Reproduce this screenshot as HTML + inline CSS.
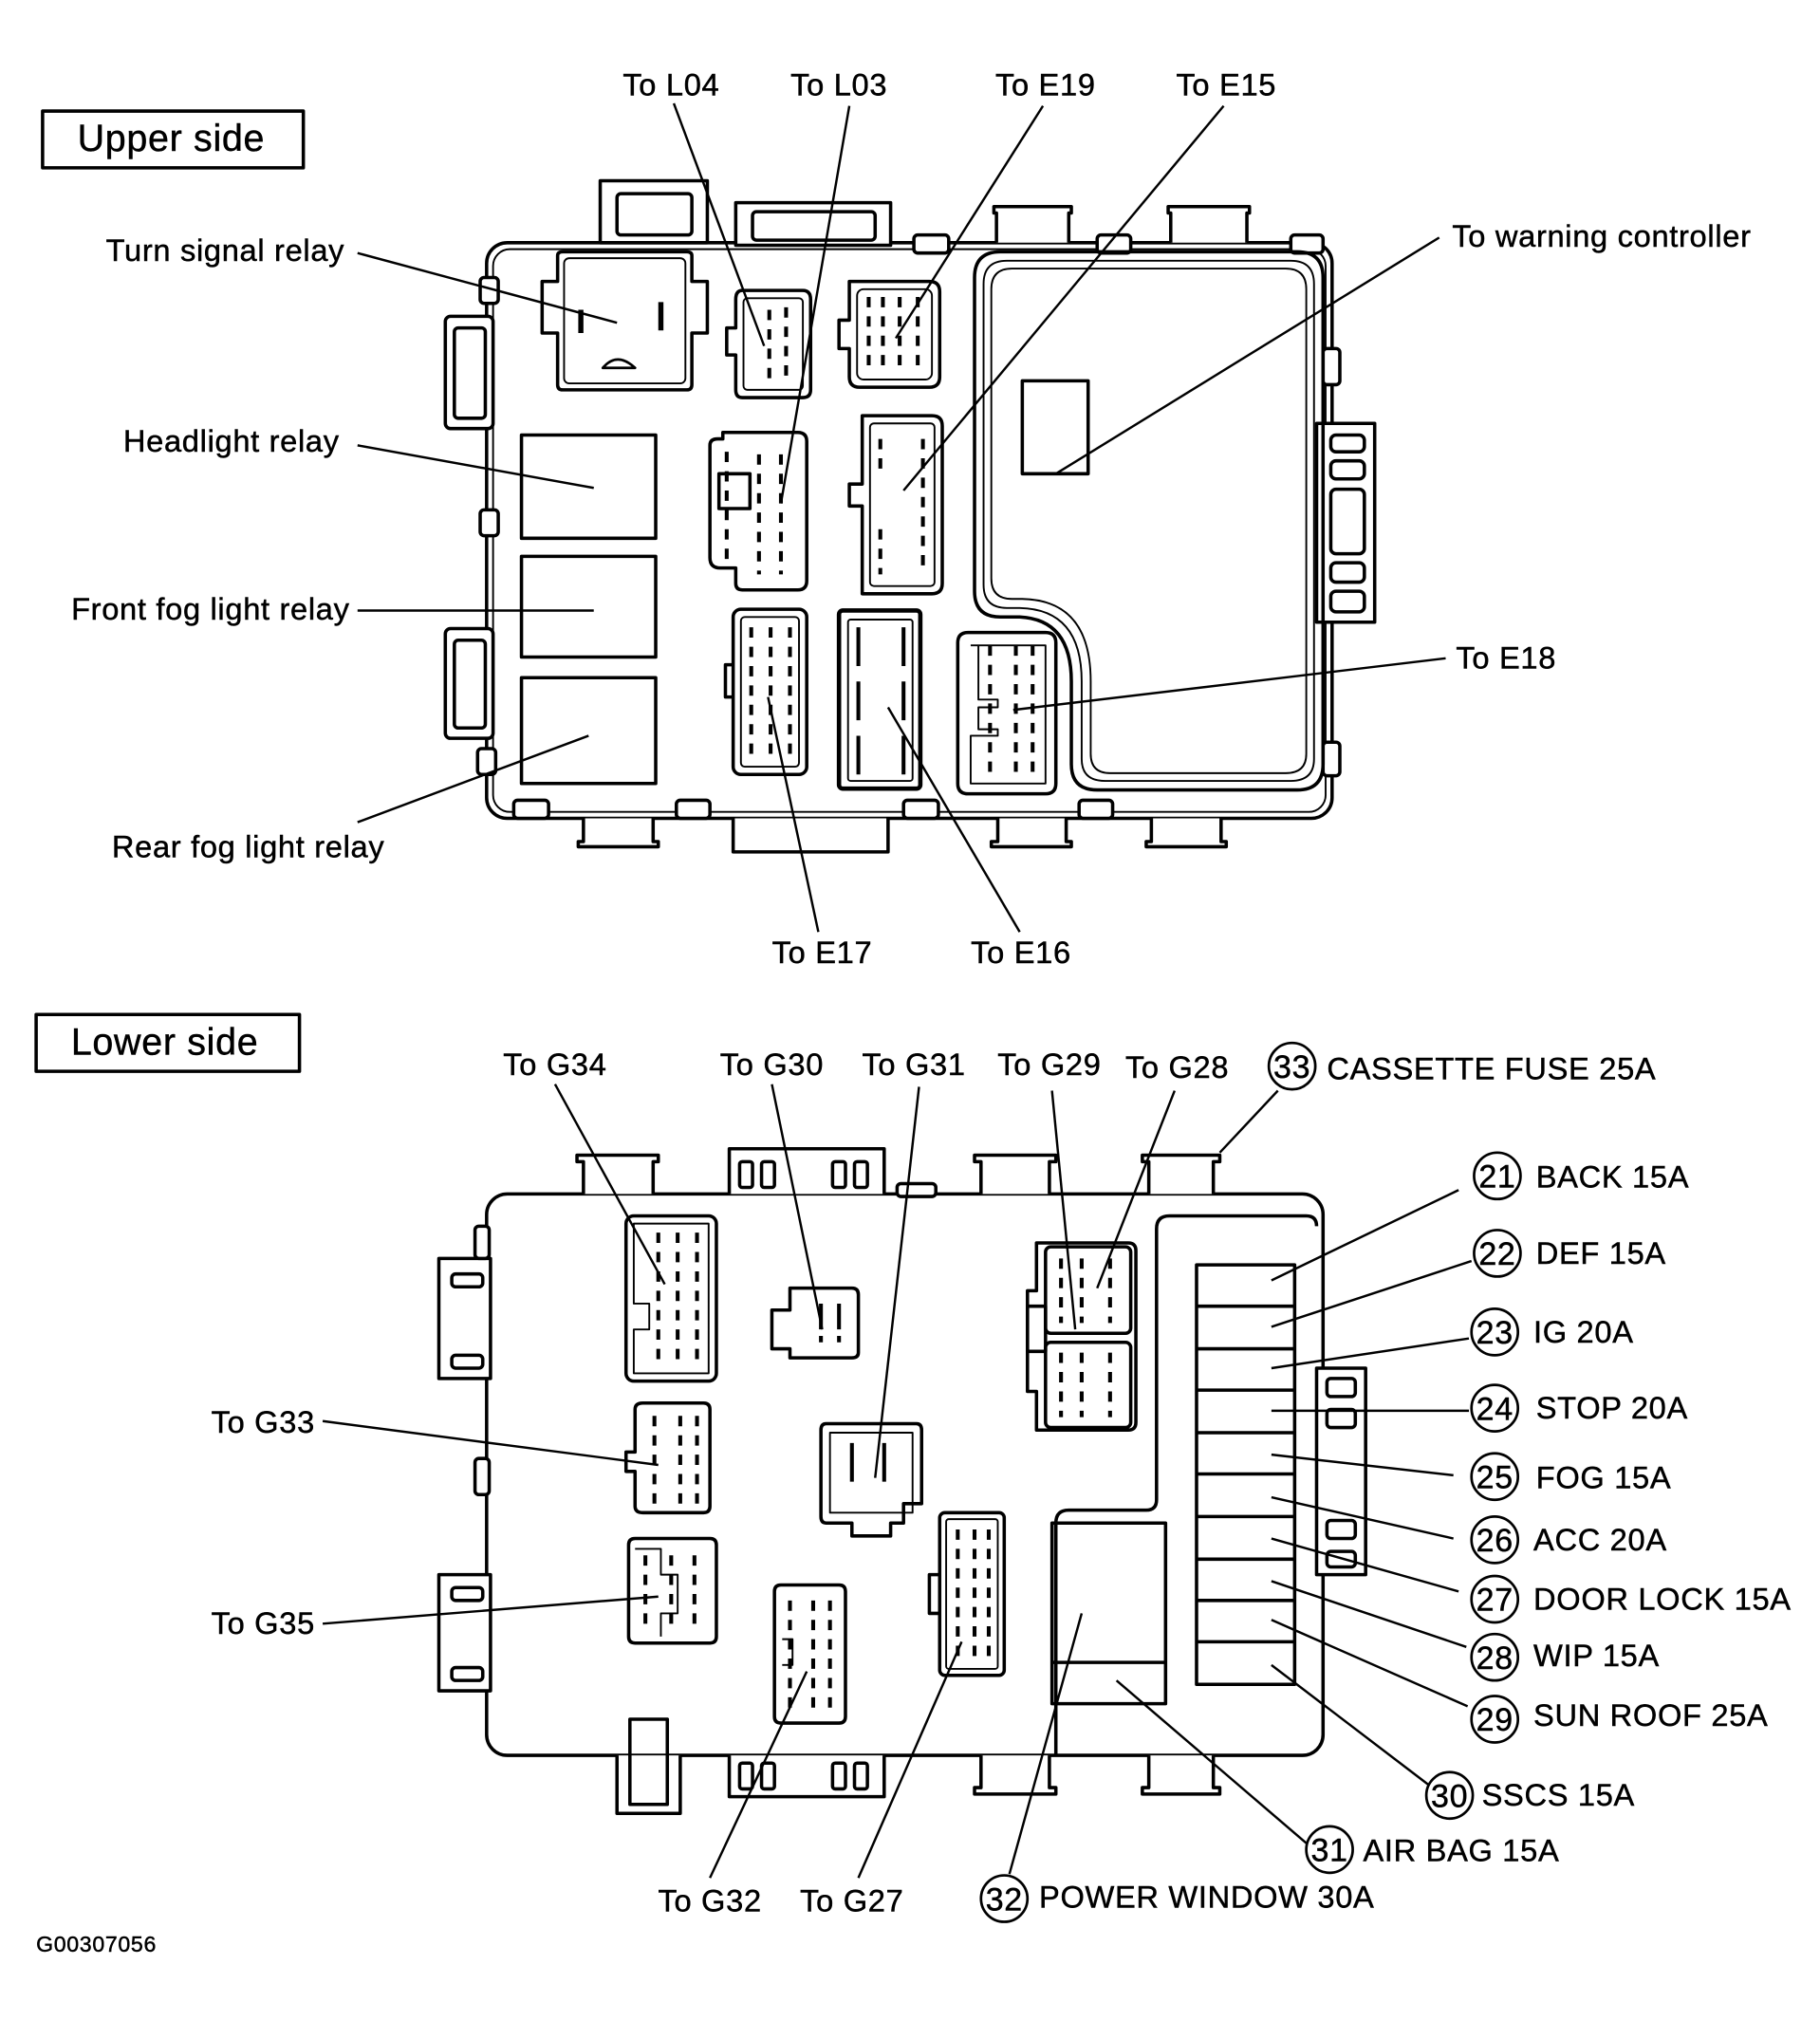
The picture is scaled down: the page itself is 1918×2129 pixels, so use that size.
<!DOCTYPE html>
<html><head><meta charset="utf-8"><style>
html,body{margin:0;padding:0;background:#fff;}
svg{display:block;}
text{font-family:"Liberation Sans",Arial,sans-serif;fill:#000;stroke:#000;stroke-width:0.35;letter-spacing:0.5px;}
</style></head><body>
<svg width="1918" height="2129" viewBox="0 0 1410 1565" xmlns="http://www.w3.org/2000/svg">
<g fill="none" stroke="#000" stroke-width="2.6" stroke-linejoin="round">
<!-- ============ UPPER SIDE ============ -->
<rect x="33" y="86" width="202" height="44"/>
<rect x="377" y="188" width="655" height="446" rx="16"/>
<rect x="382" y="193" width="645" height="436" rx="13" stroke-width="1.4"/>
<rect x="465" y="140" width="83" height="48" fill="#fff"/>
<rect x="478" y="150" width="58" height="32" rx="3"/>
<rect x="570" y="157" width="120" height="33" fill="#fff"/>
<rect x="583" y="164" width="95" height="22" rx="3"/>
<rect x="708" y="182" width="27" height="14" rx="3" fill="#fff"/>
<rect x="850" y="182" width="26" height="14" rx="3" fill="#fff"/>
<rect x="1000" y="182" width="25" height="14" rx="3" fill="#fff"/>
<path d="M772 188 V165 H770 V160 H830 V165 H828 V188" fill="#fff"/>
<path d="M907 188 V165 H905 V160 H968 V165 H966 V188" fill="#fff"/>
<rect x="345" y="245" width="37" height="87" rx="4" fill="#fff"/>
<rect x="352" y="254" width="24" height="70" rx="3"/>
<rect x="345" y="487" width="37" height="85" rx="4" fill="#fff"/>
<rect x="352" y="496" width="24" height="68" rx="3"/>
<rect x="372" y="215" width="14" height="20" rx="3" fill="#fff"/>
<rect x="372" y="395" width="14" height="20" rx="3" fill="#fff"/>
<rect x="370" y="580" width="14" height="20" rx="3" fill="#fff"/>
<rect x="1025" y="270" width="13" height="28" rx="3" fill="#fff"/>
<rect x="1025" y="575" width="13" height="26" rx="3" fill="#fff"/>
<rect x="1020" y="328" width="45" height="154" fill="#fff"/>
<rect x="1031" y="337" width="26" height="13" rx="4"/>
<rect x="1031" y="357" width="26" height="14" rx="4"/>
<rect x="1031" y="379" width="26" height="50" rx="4"/>
<rect x="1031" y="436" width="26" height="15" rx="4"/>
<rect x="1031" y="458" width="26" height="16" rx="4"/>
<rect x="398" y="620" width="27" height="14" rx="3" fill="#fff"/>
<rect x="524" y="620" width="26" height="14" rx="3" fill="#fff"/>
<rect x="700" y="620" width="27" height="14" rx="3" fill="#fff"/>
<rect x="836" y="620" width="26" height="14" rx="3" fill="#fff"/>
<path d="M568 634 V660 H688 V634" fill="#fff"/>
<path d="M452 634 V652 H448 V656 H510 V652 H506 V634" fill="#fff"/>
<path d="M773 634 V652 H768 V656 H830 V652 H826 V634" fill="#fff"/>
<path d="M892 634 V652 H888 V656 H950 V652 H946 V634" fill="#fff"/>
<path d="M420 218 H432 V198 Q432 195 436 195 H532 Q536 195 536 198 V218 H548 V258 H536 V298 Q536 302 532 302 H436 Q432 302 432 298 V258 H420 Z"/>
<rect x="437" y="200" width="94" height="97" rx="4" stroke-width="1.4"/>
<path d="M450 240 V258 M512 234 V256" stroke-width="4"/>
<path d="M467 285 Q478 272 492 285 Z" stroke-width="2"/>
<rect x="404" y="337" width="104" height="80"/>
<rect x="404" y="431" width="104" height="78"/>
<rect x="404" y="525" width="104" height="82"/>
<path d="M575 225 H622 Q628 225 628 232 V302 Q628 308 622 308 H575 Q570 308 570 302 V275 H563 V254 H570 V232 Q570 225 575 225 Z"/>
<rect x="576" y="231" width="46" height="71" rx="3" stroke-width="1.4"/>
<path d="M658 218 H720 Q728 218 728 226 V292 Q728 300 720 300 H666 Q658 300 658 292 V270 H650 V248 H658 Z"/>
<rect x="664" y="224" width="58" height="70" rx="5" stroke-width="1.4"/>
<path d="M560 335 H618 Q625 335 625 342 V450 Q625 457 618 457 H575 Q570 457 570 452 V440 H558 Q550 440 550 432 V345 Q550 340 556 340 H560 Z"/>
<rect x="557" y="367" width="24" height="27"/>
<path d="M668 322 H722 Q730 322 730 330 V452 Q730 460 722 460 H668 V392 H658 V375 H668 Z"/>
<rect x="674" y="328" width="50" height="126" rx="3" stroke-width="1.4"/>
<rect x="568" y="472" width="57" height="128" rx="6"/>
<rect x="574" y="478" width="45" height="116" rx="3" stroke-width="1.4"/>
<path d="M568 515 H562 V540 H568" />
<rect x="650" y="473" width="63" height="138" rx="3" stroke-width="3.4"/>
<rect x="657" y="480" width="50" height="125" rx="2" stroke-width="1.4"/>
<path d="M750 490 H810 Q818 490 818 498 V607 Q818 615 810 615 H750 Q742 615 742 607 V498 Q742 490 750 490 Z"/>
<path d="M752 500 H810 V607 H752 V570 H773 V565 H758 V548 H773 V542 H758 V500" stroke-width="1.4"/>
<path d="M775 195 H1005 Q1025 195 1025 215 V592 Q1025 612 1005 612 H850 Q830 612 830 592 V528 Q830 480 790 478 H775 Q755 478 755 458 V215 Q755 195 775 195 Z"/>
<path d="M780 202 H1000 Q1018 202 1018 220 V588 Q1018 605 1000 605 H856 Q838 605 838 588 V528 Q838 472 790 471 H780 Q762 471 762 453 V220 Q762 202 780 202 Z" stroke-width="1.4"/>
<path d="M784 208 H996 Q1012 208 1012 224 V584 Q1012 599 996 599 H860 Q845 599 845 584 V528 Q845 465 792 464 H784 Q768 464 768 448 V224 Q768 208 784 208 Z" stroke-width="1.4"/>
<rect x="792" y="295" width="51" height="72"/>
</g>
<g stroke="#000" stroke-width="3" stroke-dasharray="8,7" fill="none">
<path d="M596 240 V296 M609 238 V298"/>
<path d="M673 230 V290 M684 230 V290 M697 230 V290 M711 230 V290"/>
<path d="M563 350 V440 M588 352 V445 M605 352 V445"/>
<path d="M682 340 V370 M682 410 V445 M715 340 V445"/>
<path d="M582 486 V590 M597 486 V590 M612 486 V590"/>
<path d="M665 486 V600 M700 486 V600" stroke-dasharray="30,12"/>
<path d="M767 500 V605 M787 500 V605 M800 500 V605"/>
</g>
<g stroke="#000" stroke-width="1.8" fill="none">
<path d="M277 196 L478 250"/>
<path d="M277 345 L460 378"/>
<path d="M277 473 L460 473"/>
<path d="M277 637 L456 570"/>
<path d="M522 80 L592 268"/>
<path d="M658 82 L605 390"/>
<path d="M808 82 L694 262"/>
<path d="M948 82 L700 380"/>
<path d="M1115 184 L818 367"/>
<path d="M1120 510 L785 550"/>
<path d="M634 722 L595 540"/>
<path d="M790 722 L688 548"/>
</g>
<g font-size="24">
<text x="60" y="117" font-size="29">Upper side</text>
<text x="267" y="202" text-anchor="end">Turn signal relay</text>
<text x="263" y="350" text-anchor="end">Headlight relay</text>
<text x="271" y="480" text-anchor="end">Front fog light relay</text>
<text x="298" y="664" text-anchor="end">Rear fog light relay</text>
<text x="520" y="74" text-anchor="middle">To L04</text>
<text x="650" y="74" text-anchor="middle">To L03</text>
<text x="810" y="74" text-anchor="middle">To E19</text>
<text x="950" y="74" text-anchor="middle">To E15</text>
<text x="1125" y="191">To warning controller</text>
<text x="1128" y="518">To E18</text>
<text x="637" y="746" text-anchor="middle">To E17</text>
<text x="791" y="746" text-anchor="middle">To E16</text>
</g>

<!-- ============ LOWER SIDE ============ -->
<g fill="none" stroke="#000" stroke-width="2.6" stroke-linejoin="round">
<rect x="28" y="786" width="204" height="44"/>
<rect x="377" y="925" width="648" height="435" rx="16"/>
<path d="M565 925 V890 H685 V925" fill="#fff"/>
<rect x="573" y="900" width="10" height="20" rx="2"/><rect x="590" y="900" width="10" height="20" rx="2"/>
<rect x="645" y="900" width="10" height="20" rx="2"/><rect x="662" y="900" width="10" height="20" rx="2"/>
<rect x="695" y="917" width="30" height="10" rx="3" fill="#fff"/>
<path d="M452 925 V900 H447 V895 H510 V900 H506 V925" fill="#fff"/>
<path d="M760 925 V900 H755 V895 H818 V900 H813 V925" fill="#fff"/>
<path d="M890 925 V900 H885 V895 H945 V900 H940 V925" fill="#fff"/>
<rect x="340" y="975" width="40" height="93" fill="#fff"/>
<rect x="350" y="987" width="24" height="10" rx="3"/><rect x="350" y="1050" width="24" height="10" rx="3"/>
<rect x="340" y="1220" width="40" height="90" fill="#fff"/>
<rect x="350" y="1230" width="24" height="10" rx="3"/><rect x="350" y="1292" width="24" height="10" rx="3"/>
<rect x="368" y="950" width="11" height="25" rx="3" fill="#fff"/>
<rect x="368" y="1130" width="11" height="28" rx="3" fill="#fff"/>
<rect x="1020" y="1060" width="38" height="160" fill="#fff"/>
<rect x="1028" y="1068" width="22" height="14" rx="3"/><rect x="1028" y="1092" width="22" height="14" rx="3"/>
<rect x="1028" y="1178" width="22" height="14" rx="3"/><rect x="1028" y="1202" width="22" height="12" rx="3"/>
<path d="M478 1360 V1405 H527 V1360" fill="#fff"/>
<path d="M488 1332 V1398 H517 V1332 Z"/>
<path d="M565 1360 V1392 H685 V1360" fill="#fff"/>
<rect x="573" y="1366" width="10" height="20" rx="2"/><rect x="590" y="1366" width="10" height="20" rx="2"/>
<rect x="645" y="1366" width="10" height="20" rx="2"/><rect x="662" y="1366" width="10" height="20" rx="2"/>
<path d="M760 1360 V1385 H755 V1390 H818 V1385 H813 V1360" fill="#fff"/>
<path d="M890 1360 V1385 H885 V1390 H945 V1385 H940 V1360" fill="#fff"/>
<path d="M818 1360 V1180 Q818 1170 828 1170 H888 Q896 1170 896 1162 V952 Q896 942 906 942 H1012 Q1020 942 1020 950"/>
<rect x="815" y="1180" width="88" height="140"/>
<path d="M815 1288 H903"/>
<rect x="927" y="980" width="76" height="325"/>
<path d="M927 1012 H1003 M927 1045 H1003 M927 1077 H1003 M927 1110 H1003 M927 1142 H1003 M927 1175 H1003 M927 1208 H1003 M927 1240 H1003 M927 1272 H1003"/>
<rect x="485" y="942" width="70" height="128" rx="6"/>
<path d="M491 948 H549 V1064 H491 V1030 H503 V1010 H491 Z" stroke-width="1.4"/>
<path d="M612 998 H660 Q665 998 665 1003 V1048 Q665 1052 660 1052 H612 V1045 H598 V1015 H612 Z"/>
<path d="M498 1087 H545 Q550 1087 550 1092 V1167 Q550 1172 545 1172 H498 Q492 1172 492 1167 V1140 H485 V1125 H492 V1092 Q492 1087 498 1087 Z"/>
<path d="M640 1103 H710 Q714 1103 714 1108 V1165 H700 V1180 H690 V1190 H660 V1180 H640 Q636 1180 636 1175 V1108 Q636 1103 640 1103 Z"/>
<rect x="643" y="1110" width="64" height="62" stroke-width="1.4"/>
<path d="M803 963 H874 Q880 963 880 969 V1102 Q880 1108 874 1108 H803 V1078 H796 V1000 H803 Z"/>
<rect x="810" y="966" width="66" height="67" rx="4"/>
<rect x="810" y="1040" width="66" height="66" rx="4"/>
<rect x="796" y="1012" width="14" height="35"/>
<path d="M492 1192 H550 Q555 1192 555 1197 V1268 Q555 1273 550 1273 H492 Q487 1273 487 1268 V1197 Q487 1192 492 1192 Z"/>
<path d="M492 1200 H512 V1220 H525 V1250 H512 V1268" stroke-width="1.4"/>
<path d="M605 1228 H650 Q655 1228 655 1233 V1330 Q655 1335 650 1335 H605 Q600 1335 600 1330 V1233 Q600 1228 605 1228 Z"/>
<path d="M606 1270 H614 V1290 H606" stroke-width="1.4"/>
<rect x="728" y="1172" width="50" height="126" rx="4"/>
<path d="M728 1220 H720 V1250 H728"/>
<rect x="733" y="1177" width="40" height="116" rx="2" stroke-width="1.4"/>
</g>
<g stroke="#000" stroke-width="3" stroke-dasharray="8,7" fill="none">
<path d="M510 955 V1060 M525 955 V1060 M540 955 V1060"/>
<path d="M636 1010 V1040 M650 1010 V1040" stroke-dasharray="20,5"/>
<path d="M507 1097 V1165 M527 1097 V1165 M540 1097 V1165"/>
<path d="M660 1118 V1150 M685 1118 V1150" stroke-dasharray="30,4"/>
<path d="M822 975 V1025 M838 975 V1025 M860 975 V1025 M822 1048 V1098 M838 1048 V1098 M860 1048 V1098"/>
<path d="M500 1205 V1262 M520 1205 V1262 M538 1205 V1262"/>
<path d="M612 1240 V1325 M630 1240 V1325 M643 1240 V1325"/>
<path d="M742 1185 V1290 M755 1185 V1290 M766 1185 V1290"/>
</g>
<g fill="none" stroke="#000" stroke-width="2">
<circle cx="1001" cy="826" r="18"/>
<circle cx="1160" cy="911" r="18"/>
<circle cx="1160" cy="971" r="18"/>
<circle cx="1158" cy="1032" r="18"/>
<circle cx="1158" cy="1091" r="18"/>
<circle cx="1158" cy="1144" r="18"/>
<circle cx="1158" cy="1193" r="18"/>
<circle cx="1158" cy="1239" r="18"/>
<circle cx="1158" cy="1284" r="18"/>
<circle cx="1158" cy="1332" r="18"/>
<circle cx="1123" cy="1391" r="18"/>
<circle cx="1030" cy="1433" r="18"/>
<circle cx="778" cy="1471" r="18"/>
</g>
<g stroke="#000" stroke-width="1.8" fill="none">
<path d="M430 840 L515 995"/>
<path d="M598 840 L637 1030"/>
<path d="M712 842 L678 1145"/>
<path d="M815 845 L833 1030"/>
<path d="M910 845 L850 998"/>
<path d="M990 845 L945 893"/>
<path d="M1130 922 L985 992"/>
<path d="M1140 977 L985 1028"/>
<path d="M1138 1037 L985 1060"/>
<path d="M1138 1093 L985 1093"/>
<path d="M1126 1143 L985 1127"/>
<path d="M1126 1192 L985 1160"/>
<path d="M1130 1233 L985 1192"/>
<path d="M1136 1276 L985 1225"/>
<path d="M1137 1322 L985 1255"/>
<path d="M1107 1383 L985 1290"/>
<path d="M1012 1428 L865 1302"/>
<path d="M782 1452 L838 1250"/>
<path d="M250 1101 L510 1135"/>
<path d="M250 1258 L510 1237"/>
<path d="M550 1455 L625 1295"/>
<path d="M665 1455 L745 1272"/>
</g>
<g font-size="24">
<text x="55" y="817" font-size="29">Lower side</text>
<text x="430" y="833" text-anchor="middle">To G34</text>
<text x="598" y="833" text-anchor="middle">To G30</text>
<text x="708" y="833" text-anchor="middle">To G31</text>
<text x="813" y="833" text-anchor="middle">To G29</text>
<text x="912" y="835" text-anchor="middle">To G28</text>
<text x="1001" y="835" font-size="25" text-anchor="middle" letter-spacing="-1">33</text><text x="1028" y="836">CASSETTE FUSE 25A</text>
<text x="1160" y="920" font-size="25" text-anchor="middle" letter-spacing="-1">21</text><text x="1190" y="920">BACK 15A</text>
<text x="1160" y="980" font-size="25" text-anchor="middle" letter-spacing="-1">22</text><text x="1190" y="979">DEF 15A</text>
<text x="1158" y="1041" font-size="25" text-anchor="middle" letter-spacing="-1">23</text><text x="1188" y="1040">IG 20A</text>
<text x="1158" y="1100" font-size="25" text-anchor="middle" letter-spacing="-1">24</text><text x="1190" y="1099">STOP 20A</text>
<text x="1158" y="1153" font-size="25" text-anchor="middle" letter-spacing="-1">25</text><text x="1190" y="1153">FOG 15A</text>
<text x="1158" y="1202" font-size="25" text-anchor="middle" letter-spacing="-1">26</text><text x="1188" y="1201">ACC 20A</text>
<text x="1158" y="1248" font-size="25" text-anchor="middle" letter-spacing="-1">27</text><text x="1188" y="1247">DOOR LOCK 15A</text>
<text x="1158" y="1293" font-size="25" text-anchor="middle" letter-spacing="-1">28</text><text x="1188" y="1291">WIP 15A</text>
<text x="1158" y="1341" font-size="25" text-anchor="middle" letter-spacing="-1">29</text><text x="1188" y="1337">SUN ROOF 25A</text>
<text x="1123" y="1400" font-size="25" text-anchor="middle" letter-spacing="-1">30</text><text x="1148" y="1399">SSCS 15A</text>
<text x="1030" y="1442" font-size="25" text-anchor="middle" letter-spacing="-1">31</text><text x="1056" y="1442">AIR BAG 15A</text>
<text x="778" y="1480" font-size="25" text-anchor="middle" letter-spacing="-1">32</text><text x="805" y="1478">POWER WINDOW 30A</text>
<text x="244" y="1110" text-anchor="end">To G33</text>
<text x="244" y="1266" text-anchor="end">To G35</text>
<text x="550" y="1481" text-anchor="middle">To G32</text>
<text x="660" y="1481" text-anchor="middle">To G27</text>
<text x="28" y="1512" font-size="17" letter-spacing="0">G00307056</text>
</g>
</svg>
</body></html>
